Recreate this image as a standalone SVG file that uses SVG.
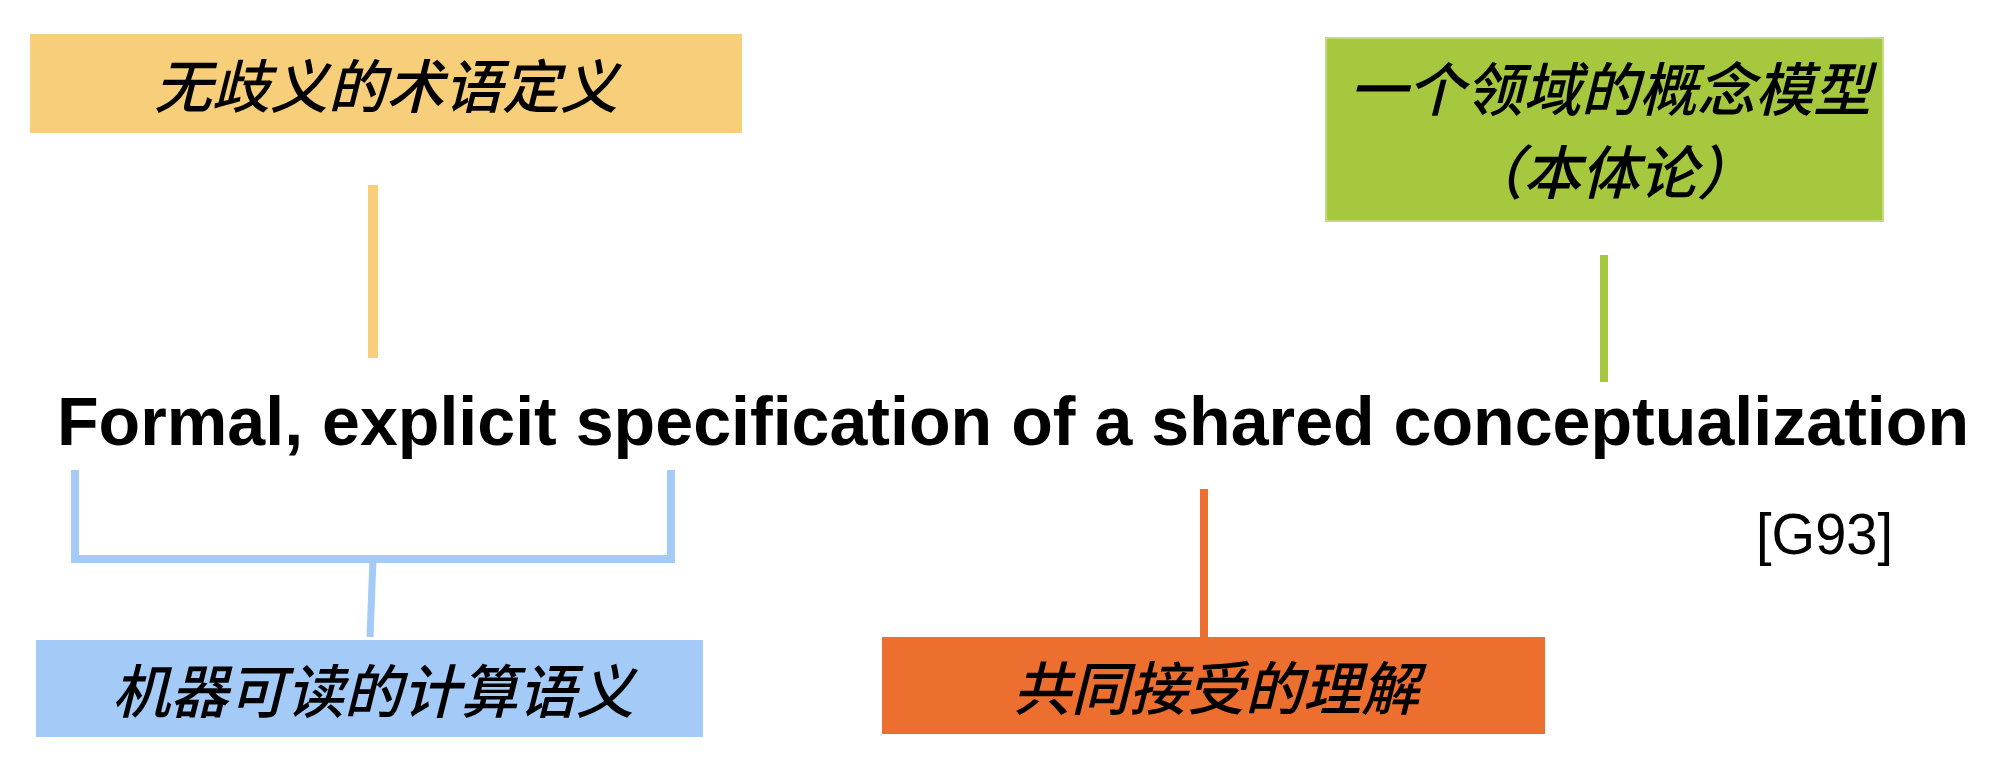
<svg xmlns="http://www.w3.org/2000/svg" width="2006" height="782" viewBox="0 0 2006 782">
<style>
.cn{font-family:"Noto Sans CJK SC","Noto Sans",sans-serif;font-style:italic;font-weight:500;font-size:58px;fill:#000;text-anchor:middle}
.main{font-family:"Liberation Sans","DejaVu Sans",sans-serif;font-weight:bold;font-size:68px;fill:#000}
.ref{font-family:"Liberation Sans","DejaVu Sans",sans-serif;font-size:57px;fill:#000}
</style>
<rect width="2006" height="782" fill="#fff"/>
<g id="connectors" fill="none">
<line x1="373" y1="185" x2="373" y2="358" stroke="#F7CE79" stroke-width="10"/>
<line x1="1604" y1="255" x2="1604" y2="382" stroke="#A6C83F" stroke-width="8"/>
<polyline points="75,470 75,559 671,559 671,470" stroke="#A4CBF8" stroke-width="8"/>
<line x1="373" y1="559" x2="370" y2="637" stroke="#A4CBF8" stroke-width="7"/>
<line x1="1204" y1="489" x2="1204" y2="637" stroke="#EC6F30" stroke-width="8"/>
</g>
<g id="node-yellow">
<rect x="30" y="34" width="712" height="99" fill="#F7CE79"/>
<text class="cn" x="386" y="108">无歧义的术语定义</text>
</g>
<g id="node-green">
<rect x="1326" y="38" width="557" height="183" fill="#A6C83F" stroke="#C4DC80" stroke-width="2"/>
<text class="cn" x="1610" y="111">一个领域的概念模型</text>
<text class="cn" x="1610" y="194">（本体论）</text>
</g>
<g id="node-main">
<text class="main" x="57" y="445" textLength="1912" lengthAdjust="spacingAndGlyphs">Formal, explicit specification of a shared conceptualization</text>
</g>
<g id="node-blue">
<rect x="36" y="640" width="667" height="97" fill="#A4CBF8"/>
<text class="cn" x="373" y="713">机器可读的计算语义</text>
</g>
<g id="node-orange">
<rect x="882" y="637" width="663" height="97" fill="#EC6F30"/>
<text class="cn" x="1216" y="710">共同接受的理解</text>
</g>
<g id="ref">
<text class="ref" x="1756" y="554" textLength="137" lengthAdjust="spacingAndGlyphs">[G93]</text>
</g>
</svg>
